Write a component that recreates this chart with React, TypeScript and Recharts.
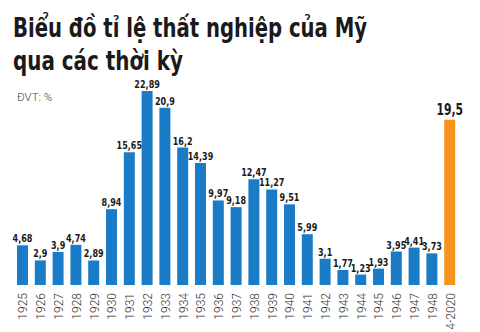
import { BarChart, Bar, XAxis, YAxis, Cell, LabelList } from "recharts";

// === Données ===
const years = [
  "1925", "1926", "1927", "1928", "1929", "1930", "1931", "1932", "1933",
  "1934", "1935", "1936", "1937", "1938", "1939", "1940", "1941", "1942",
  "1943", "1944", "1945", "1946", "1947", "1948", "4-2020",
];
const rates = [
  4.68, 2.9, 3.9, 4.74, 2.89, 8.94, 15.65, 22.89, 20.9, 16.2, 14.39, 9.97,
  9.18, 12.47, 11.27, 9.51, 5.99, 3.1, 1.77, 1.23, 1.93, 3.95, 4.41, 3.73, 19.5,
];
const highlight = "4-2020";

const BLUE = "#1a7bc6";
const ORANGE = "#f7941e";

const data = years.map((y, i) => ({ year: y, rate: rates[i] }));

const fmt = (v: number) => String(v).replace(".", ",");

const YearTick = (props: any) => {
  const { x, y, payload } = props;
  return (
    <text
      transform={`translate(${x + 4.5},${y}) rotate(-90)`}
      textAnchor="end"
      fontFamily="Roboto"
      fontWeight={300}
      fontSize={12}
      fill="#333"
    >
      {payload.value}
    </text>
  );
};

const ValueLabel = (props: any) => {
  const { x, y, width, value, index } = props;
  const big = years[index] === highlight;
  const cx = x + width / 2;
  return (
    <text
      transform={`translate(${cx},${y - (big ? 5 : 3)}) scale(0.8,1)`}
      textAnchor="middle"
      fontFamily="DejaVu Sans Condensed"
      fontWeight="bold"
      fontSize={big ? 15 : 11.2}
      fill="#1a1a1a"
    >
      {fmt(value)}
    </text>
  );
};

export default function App() {
  return (
    <div
      style={{
        position: "absolute",
        left: 0,
        top: 0,
        width: 480,
        height: 332,
        background: "#fff",
        overflow: "hidden",
      }}
    >
      <svg
        width={480}
        height={110}
        style={{ position: "absolute", left: 0, top: 0 }}
      >
        <text
          x={13}
          y={37}
          fontFamily="DejaVu Sans Condensed"
          fontWeight="bold"
          fontSize={27}
          fill="#1a1a1a"
          textLength={354}
          lengthAdjust="spacingAndGlyphs"
        >
          Biểu đồ tỉ lệ thất nghiệp của Mỹ
        </text>
        <text
          x={13}
          y={70}
          fontFamily="DejaVu Sans Condensed"
          fontWeight="bold"
          fontSize={27}
          fill="#1a1a1a"
          textLength={170}
          lengthAdjust="spacingAndGlyphs"
        >
          qua các thời kỳ
        </text>
        <text
          x={17}
          y={101}
          fontFamily="Roboto"
          fontWeight={300}
          fontSize={11.5}
          fill="#444"
        >
          ĐVT: %
        </text>
      </svg>
      <div style={{ position: "absolute", left: 0, top: 0 }}>
        <BarChart
          width={480}
          height={332}
          data={data}
          margin={{ top: 73, right: 21, left: 14, bottom: 0 }}
          barCategoryGap={0}
        >
          <XAxis
            dataKey="year"
            interval={0}
            height={47}
            axisLine={false}
            tickLine={false}
            tick={<YearTick />}
          />
          <YAxis hide domain={[0, 25]} />
          <Bar dataKey="rate" barSize={11} isAnimationActive={false}>
            {data.map((d) => (
              <Cell key={d.year} fill={d.year === highlight ? ORANGE : BLUE} />
            ))}
            <LabelList dataKey="rate" content={<ValueLabel />} />
          </Bar>
        </BarChart>
      </div>
    </div>
  );
}
